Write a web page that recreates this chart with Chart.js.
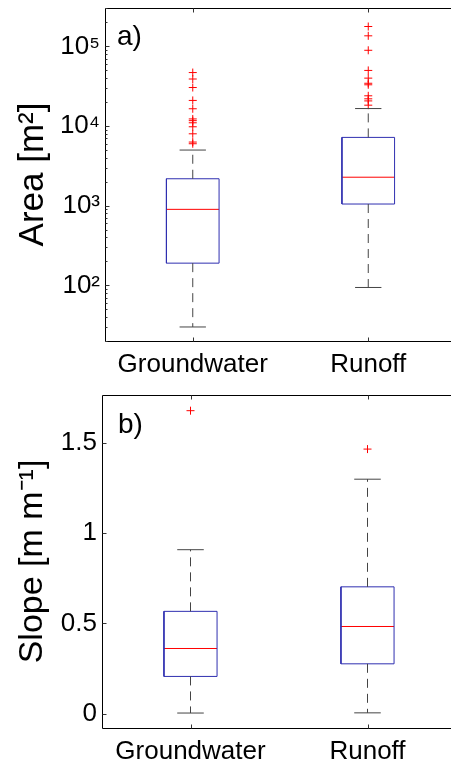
<!DOCTYPE html>
<html>
<head>
<meta charset="utf-8">
<script src="https://cdn.jsdelivr.net/npm/chart.js@4/dist/chart.umd.min.js"></script>
<style>
  html, body { margin: 0; padding: 0; background: #fff; overflow: hidden; width: 451px; height: 762px; }
  #wrap { position: relative; width: 451px; height: 762px; overflow: hidden; }
  canvas { position: absolute; left: 0; display: block; }
  #c1 { top: 0; }
  #c2 { top: 380px; }
</style>
</head>
<body>
<div id="wrap">
<canvas id="c1" width="461" height="380" style="width:461px;height:380px"></canvas>
<canvas id="c2" width="461" height="382" style="width:461px;height:382px"></canvas>
</div>
<script>
// ---------- data ----------
const categories = ['Groundwater', 'Runoff'];

// panel a) Area [m^2] (log scale)
const areaLowerWhisker = [30, 94];
const areaQ1 = [190, 1050];
const areaMedian = [900, 2280];
const areaQ3 = [2180, 7210];
const areaUpperWhisker = [5000, 16600];
const areaOutliersGroundwater = [47000, 39000, 30500, 21000, 16500, 12300, 11700, 11000, 9800, 8000, 6300, 6000];
const areaOutliersRunoff = [178000, 136000, 89500, 50000, 40000, 34500, 33000, 24000, 22000, 20700, 18300];
const areaTicks = [100, 1000, 10000, 100000];

// panel b) Slope [m m^-1]
const slopeLowerWhisker = [0.003, 0.004];
const slopeQ1 = [0.206, 0.276];
const slopeMedian = [0.361, 0.483];
const slopeQ3 = [0.567, 0.703];
const slopeUpperWhisker = [0.909, 1.30];
const slopeOutliersGroundwater = [1.68];
const slopeOutliersRunoff = [1.467];
const slopeTicks = [0, 0.5, 1, 1.5];

// ---------- styling ----------
const FONT = '"Liberation Sans", Arial, Helvetica, sans-serif';
const BOX_HALF = 0.15, CAP_HALF = 0.075;
const BOX_COLOR = '#2f2fb0', MED_COLOR = '#ff0000', WHISK_COLOR = '#444', OUT_COLOR = '#ff0000';

function boxDatasets(lo, q1, med, q3, hi, outliersList) {
  const ds = [];
  const line = (data, color, dash) => ({
    type: 'scatter', data, showLine: true, borderColor: color, borderWidth: 1,
    borderDash: dash || [], pointRadius: 0, fill: false, tension: 0
  });
  for (let i = 0; i < categories.length; i++) {
    const x = i + 1;
    ds.push(line([{x, y: q3[i]}, {x, y: hi[i]}], WHISK_COLOR, [9, 6]));
    ds.push(line([{x, y: q1[i]}, {x, y: lo[i]}], WHISK_COLOR, [9, 6]));
    ds.push(line([{x: x - CAP_HALF, y: hi[i]}, {x: x + CAP_HALF, y: hi[i]}], WHISK_COLOR));
    ds.push(line([{x: x - CAP_HALF, y: lo[i]}, {x: x + CAP_HALF, y: lo[i]}], WHISK_COLOR));
    ds.push(line([
      {x: x - BOX_HALF, y: q1[i]}, {x: x + BOX_HALF, y: q1[i]},
      {x: x + BOX_HALF, y: q3[i]}, {x: x - BOX_HALF, y: q3[i]},
      {x: x - BOX_HALF, y: q1[i]}], BOX_COLOR));
    ds.push(line([{x: x - BOX_HALF, y: med[i]}, {x: x + BOX_HALF, y: med[i]}], MED_COLOR));
    ds.push({
      type: 'scatter', data: outliersList[i].map(v => ({x, y: v})), showLine: false,
      pointStyle: 'cross', pointRadius: 4, borderColor: OUT_COLOR, borderWidth: 1, backgroundColor: OUT_COLOR
    });
  }
  return ds;
}

// frame, inward ticks, panel letter
const framePlugin = {
  id: 'frame',
  afterDraw(chart, args, opts) {
    const {ctx, chartArea: a, scales} = chart;
    const xs = scales.x, ys = scales.y;
    ctx.save();
    ctx.strokeStyle = '#000';
    ctx.lineWidth = 1;
    const L = Math.round(a.left) + 0.5, T = Math.round(a.top) + 0.5, B = Math.round(a.bottom) + 0.5, R = Math.round(a.right) - 0.5;
    ctx.beginPath();
    ctx.moveTo(R, T); ctx.lineTo(L, T); ctx.lineTo(L, B); ctx.lineTo(R, B); ctx.lineTo(R, T);
    ctx.stroke();
    ctx.strokeStyle = '#333';
    ctx.beginPath();
    xs.ticks.forEach(t => {
      const px = Math.round(xs.getPixelForValue(t.value)) + 0.5;
      ctx.moveTo(px, B); ctx.lineTo(px, B - 4);
      ctx.moveTo(px, T); ctx.lineTo(px, T + 4);
    });
    ys.ticks.forEach(t => {
      const py = Math.round(ys.getPixelForValue(t.value)) + 0.5;
      ctx.moveTo(L, py); ctx.lineTo(L + 4, py);
    });
    if (opts.minor) {
      for (let e = 1; e <= 5; e++) {
        for (let m = 2; m <= 9; m++) {
          const v = m * Math.pow(10, e);
          if (v < ys.min || v > ys.max) continue;
          const py = Math.round(ys.getPixelForValue(v)) + 0.5;
          ctx.moveTo(L, py); ctx.lineTo(L + 2, py);
        }
      }
    }
    ctx.stroke();
    ctx.fillStyle = '#000';
    ctx.font = '28px ' + FONT;
    ctx.textBaseline = 'alphabetic';
    ctx.fillText(opts.letter, a.left + opts.dx, a.top + opts.dy);
    ctx.restore();
  }
};

function makeChart(id, cfg) {
  return new Chart(document.getElementById(id), {
    type: 'scatter',
    data: { datasets: cfg.datasets },
    options: {
      responsive: false, maintainAspectRatio: false, animation: false, devicePixelRatio: 1,
      layout: { padding: { top: cfg.padTop, right: 0, left: 0, bottom: 0 } },
      plugins: {
        legend: { display: false }, tooltip: { enabled: false },
        frame: cfg.frame
      },
      scales: {
        x: {
          type: 'linear', min: 0.5, max: 2.5,
          afterBuildTicks: s => { s.ticks = categories.map((c, i) => ({value: i + 1})); },
          afterFit: s => { s.height = cfg.xHeight; s.paddingLeft = 0; s.paddingRight = 0; },
          grid: { display: false, drawTicks: false },
          border: { display: false },
          ticks: {
            callback: v => categories[v - 1], autoSkip: false, maxRotation: 0,
            color: '#000', font: { family: FONT, size: 26 }, padding: cfg.xPad
          }
        },
        y: cfg.y
      }
    },
    plugins: [framePlugin]
  });
}

const sup = {'0':'⁰','1':'¹','2':'²','3':'³','4':'⁴','5':'⁵','6':'⁶','7':'⁷','8':'⁸','9':'⁹'};

makeChart('c1', {
  datasets: boxDatasets(areaLowerWhisker, areaQ1, areaMedian, areaQ3, areaUpperWhisker,
                        [areaOutliersGroundwater, areaOutliersRunoff]),
  padTop: 8, xHeight: 39, xPad: 8,
  frame: { letter: 'a)', dx: 12, dy: 37, minor: true },
  y: {
    type: 'logarithmic', min: 20, max: 304000,
    afterBuildTicks: s => { s.ticks = areaTicks.map(v => ({value: v})); },
    afterFit: s => { s.width = 105; s.paddingTop = 0; s.paddingBottom = 0; },
    grid: { display: false, drawTicks: false },
    border: { display: false },
    ticks: {
      callback: v => '10' + String(Math.round(Math.log10(v))).split('').map(d => sup[d]).join(''),
      color: '#000', font: { family: FONT, size: 26 }, padding: 5
    },
    title: { display: true, text: 'Area [m²]', color: '#000', font: { family: FONT, size: 35 }, padding: { top: 12, bottom: 0 } }
  }
});

makeChart('c2', {
  datasets: boxDatasets(slopeLowerWhisker, slopeQ1, slopeMedian, slopeQ3, slopeUpperWhisker,
                        [slopeOutliersGroundwater, slopeOutliersRunoff]),
  padTop: 15, xHeight: 34, xPad: 8,
  frame: { letter: 'b)', dx: 16, dy: 38, minor: false },
  y: {
    type: 'linear', min: -0.08, max: 1.767,
    afterBuildTicks: s => { s.ticks = slopeTicks.map(v => ({value: v})); },
    afterFit: s => { s.width = 102; s.paddingTop = 0; s.paddingBottom = 0; },
    grid: { display: false, drawTicks: false },
    border: { display: false },
    ticks: {
      callback: v => String(v),
      color: '#000', font: { family: FONT, size: 26 }, padding: 5
    },
    title: { display: true, text: 'Slope [m m⁻¹]', color: '#000', font: { family: FONT, size: 34 }, padding: { top: 12, bottom: 0 } }
  }
});
</script>
</body>
</html>
